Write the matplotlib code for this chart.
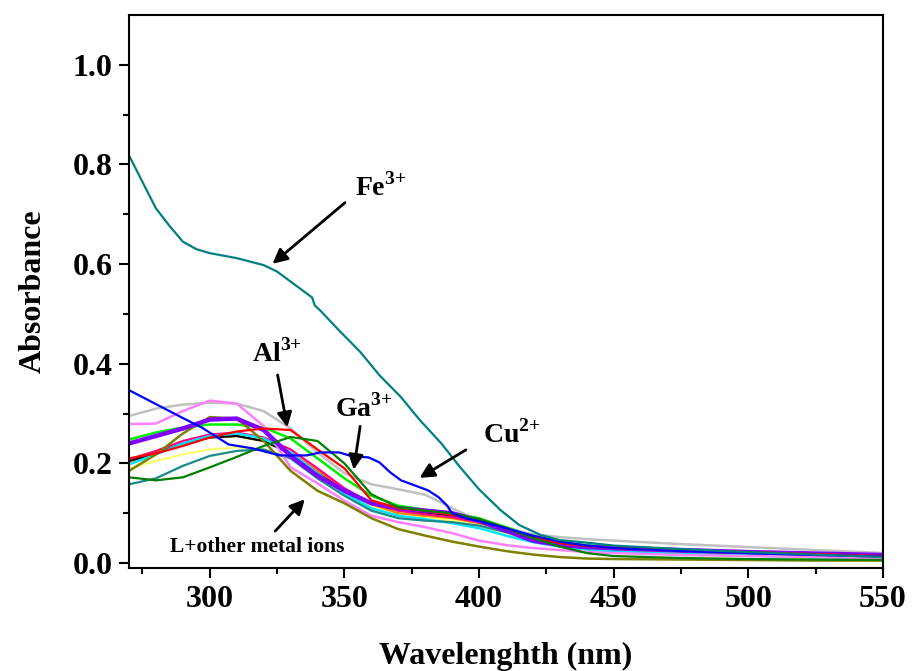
#!/usr/bin/env python3
"""UV-vis absorbance of L with metal ions"""

import matplotlib
matplotlib.use('Agg')
import matplotlib.pyplot as plt

plt.rcParams['font.family'] = ['Liberation Serif', 'DejaVu Serif']
plt.rcParams['font.weight'] = 'bold'
plt.rcParams['mathtext.fontset'] = 'custom'
plt.rcParams['mathtext.rm'] = 'Liberation Serif'
plt.rcParams['mathtext.bf'] = 'Liberation Serif:bold'

# common wavelength grid (nm) for the bundle of curves
wl = [270, 280, 290, 300, 310, 320, 330, 340, 350, 360, 370, 380, 390,
      400, 410, 420, 430, 440, 450, 475, 500, 525, 550]

# Fe3+ and Cu2+ have more structure, so their own grids
wl_fe = [270, 275, 280, 285, 290, 295, 300, 310, 320, 325, 330, 335, 338,
         339, 341, 348, 356, 363, 371, 378, 386, 393, 400, 408, 415, 423,
         430, 438, 450, 475, 500, 525, 550]
abs_fe = [0.818, 0.765, 0.712, 0.677, 0.645, 0.630, 0.622, 0.612, 0.598,
          0.585, 0.565, 0.545, 0.533, 0.517, 0.507, 0.467, 0.423, 0.377,
          0.333, 0.287, 0.240, 0.192, 0.148, 0.106, 0.076, 0.056, 0.046,
          0.042, 0.035, 0.028, 0.022, 0.017, 0.012]

wl_cu = [270, 280, 290, 297, 307, 316, 326, 336, 341, 348, 353, 359, 363,
         367, 371, 376, 381, 385, 388, 390, 395, 400, 410, 420, 430, 440,
         450, 475, 500, 525, 550]
abs_cu = [0.347, 0.319, 0.291, 0.272, 0.238, 0.230, 0.216, 0.216, 0.222,
          0.222, 0.214, 0.212, 0.202, 0.182, 0.166, 0.156, 0.146, 0.132,
          0.116, 0.100, 0.090, 0.084, 0.070, 0.055, 0.043, 0.035, 0.030,
          0.024, 0.020, 0.016, 0.013]

abs_al = [0.210, 0.220, 0.235, 0.252, 0.264, 0.270, 0.267, 0.228, 0.190,
          0.126, 0.110, 0.105, 0.097, 0.088, 0.070, 0.052, 0.040, 0.034,
          0.030, 0.026, 0.022, 0.018, 0.014]
abs_ga = [0.172, 0.166, 0.172, 0.192, 0.213, 0.235, 0.253, 0.245, 0.200,
          0.138, 0.112, 0.105, 0.100, 0.088, 0.070, 0.050, 0.033, 0.020,
          0.014, 0.010, 0.008, 0.007, 0.006]
abs_gray = [0.295, 0.310, 0.318, 0.322, 0.320, 0.305, 0.270, 0.222, 0.180,
            0.158, 0.148, 0.137, 0.110, 0.085, 0.068, 0.058, 0.052, 0.048,
            0.045, 0.038, 0.032, 0.026, 0.020]
abs_pink = [0.279, 0.280, 0.305, 0.326, 0.320, 0.275, 0.192, 0.160, 0.125,
            0.095, 0.082, 0.072, 0.060, 0.045, 0.036, 0.030, 0.026, 0.022,
            0.020, 0.016, 0.014, 0.012, 0.010]
abs_purple = [0.240, 0.255, 0.270, 0.288, 0.290, 0.267, 0.215, 0.175,
              0.145, 0.120, 0.110, 0.105, 0.100, 0.085, 0.065, 0.045,
              0.036, 0.032, 0.030, 0.026, 0.022, 0.019, 0.016]
abs_olive = [0.185, 0.218, 0.260, 0.293, 0.290, 0.245, 0.185, 0.145,
             0.120, 0.090, 0.068, 0.055, 0.043, 0.033, 0.024, 0.017,
             0.012, 0.009, 0.008, 0.007, 0.006, 0.005, 0.005]
abs_lime = [0.248, 0.262, 0.272, 0.278, 0.278, 0.272, 0.250, 0.210, 0.170,
            0.135, 0.115, 0.107, 0.100, 0.090, 0.072, 0.055, 0.042, 0.035,
            0.030, 0.025, 0.020, 0.016, 0.013]
abs_black = [0.205, 0.220, 0.240, 0.252, 0.255, 0.245, 0.220, 0.180, 0.145,
             0.120, 0.108, 0.100, 0.094, 0.085, 0.068, 0.050, 0.038, 0.030,
             0.026, 0.020, 0.016, 0.013, 0.010]
abs_cyan = [0.198, 0.218, 0.240, 0.255, 0.260, 0.250, 0.222, 0.180, 0.140,
            0.110, 0.095, 0.088, 0.080, 0.070, 0.055, 0.042, 0.033, 0.027,
            0.023, 0.018, 0.015, 0.012, 0.010]
abs_rose = [0.208, 0.225, 0.245, 0.258, 0.262, 0.252, 0.228, 0.190, 0.150,
            0.120, 0.105, 0.098, 0.092, 0.082, 0.066, 0.050, 0.038, 0.031,
            0.027, 0.021, 0.017, 0.014, 0.011]
abs_orange = [0.203, 0.220, 0.240, 0.252, 0.255, 0.245, 0.222, 0.185,
              0.148, 0.118, 0.100, 0.095, 0.090, 0.080, 0.065, 0.050,
              0.038, 0.030, 0.026, 0.021, 0.017, 0.014, 0.011]
abs_yellow = [0.190, 0.205, 0.218, 0.228, 0.232, 0.228, 0.210, 0.180,
              0.145, 0.115, 0.100, 0.092, 0.085, 0.075, 0.060, 0.045,
              0.035, 0.028, 0.024, 0.020, 0.016, 0.013, 0.011]
abs_teal = [0.158, 0.170, 0.195, 0.215, 0.225, 0.228, 0.210, 0.170, 0.135,
            0.105, 0.090, 0.085, 0.082, 0.075, 0.062, 0.050, 0.042, 0.036,
            0.032, 0.026, 0.022, 0.018, 0.014]

bundle = [
    (abs_yellow, '#ffff70', 1.6),
    (abs_orange, '#ff8000', 1.6),
    (abs_black, '#000000', 1.6),
    (abs_rose, '#ff0080', 1.6),
    (abs_cyan, '#00e5ff', 1.8),
    (abs_teal, '#1a8a8a', 1.6),
    (abs_lime, '#00ee00', 1.8),
    (abs_gray, '#c0c0c0', 1.8),
    (abs_pink, '#ff80ff', 1.8),
    (abs_olive, '#808000', 1.8),
    (abs_purple, '#8000ff', 3.2),
    (abs_al, '#ff0000', 1.6),
    (abs_ga, '#008000', 1.6),
]

fig = plt.figure(figsize=(9.13, 6.71), dpi=100)
ax = fig.add_axes([0.1413, 0.1535, 0.8258, 0.8241])

for values, color, lw in bundle:
  ax.plot(wl, values, color=color, linewidth=lw)
ax.plot(wl_cu, abs_cu, color='#0000ff', linewidth=1.6)
ax.plot(wl_fe, abs_fe, color='#008080', linewidth=1.6)

ax.set_xlim(270, 550)
ax.set_ylim(-0.01, 1.1)
ax.set_xticks([300, 350, 400, 450, 500, 550])
ax.set_xticks(range(275, 550, 50), minor=True)
ax.set_yticks([0.0, 0.2, 0.4, 0.6, 0.8, 1.0])
ax.set_yticks([0.1, 0.3, 0.5, 0.7, 0.9], minor=True)
ax.set_yticklabels(['0.0', '0.2', '0.4', '0.6', '0.8', '1.0'])
ax.tick_params(which='major', direction='out', length=7, width=1.5,
               labelsize=23, pad=5, top=False, right=False)
ax.tick_params(which='minor', direction='out', length=4.5, width=1.5,
               top=False, right=False)
for spine in ax.spines.values():
  spine.set_linewidth(1.5)

ax.set_xlabel('Wavelenghth (nm)', fontsize=23, fontweight='bold', labelpad=20)
ax.set_ylabel('Absorbance', fontsize=23, fontweight='bold', labelpad=18)

arrow = dict(arrowstyle='-|>', color='black', lw=2, mutation_scale=22)
ax.annotate('', xy=(322.5, 0.597), xytext=(351, 0.727), arrowprops=arrow)
ax.annotate('', xy=(329, 0.267), xytext=(325, 0.383), arrowprops=arrow)
ax.annotate('', xy=(353.3, 0.182), xytext=(356, 0.28), arrowprops=arrow)
ax.annotate('', xy=(377, 0.168), xytext=(396, 0.23), arrowprops=arrow)
ax.annotate('', xy=(336, 0.132), xytext=(323.6, 0.06), arrowprops=arrow)

label_kw = dict(fontsize=20, ha='left', va='center')
ax.text(354, 0.755, r'$\mathbf{Fe}^{\mathbf{3{+}}}$', **label_kw)
ax.text(315.5, 0.42, r'$\mathbf{Al}^{\mathbf{3{+}}}$', **label_kw)
ax.text(346.5, 0.31, r'$\mathbf{Ga}^{\mathbf{3{+}}}$', **label_kw)
ax.text(401.5, 0.258, r'$\mathbf{Cu}^{\mathbf{2{+}}}$', **label_kw)
ax.text(317.6, 0.032, 'L+other metal ions', fontsize=15.5, fontweight='bold',
        ha='center', va='center')

fig.savefig('out.png', dpi=100)
